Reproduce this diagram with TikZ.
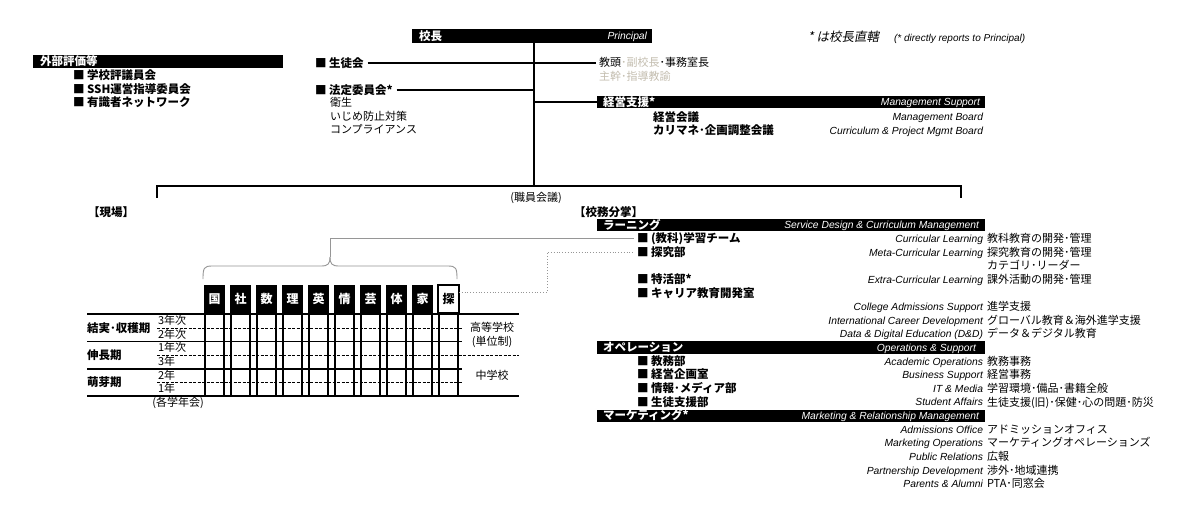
\documentclass[tikz,border=0pt]{standalone}
\usepackage{fontspec}
\setmainfont{Noto Sans CJK JP}
\newfontfamily\enf{Liberation Sans}
\newfontfamily\jpsl{Noto Sans CJK JP}[FakeSlant=0.18]
\definecolor{paleg}{RGB}{196,190,176}
\definecolor{lineg}{RGB}{150,150,150}
\begin{document}
\begin{tikzpicture}[x=1pt,y=-1pt,
  every node/.style={inner sep=0pt, outer sep=0pt},
  jtxt/.style={font=\fontsize{11}{13}\selectfont, text height=8.8pt, text depth=1.1pt},
  jsml/.style={font=\fontsize{11}{12}\selectfont, text height=8.8pt, text depth=1.1pt},
  jbold/.style={font=\fontsize{11.5}{13}\selectfont\bfseries, text height=9.2pt, text depth=1.15pt},
  etxt/.style={font=\enf\itshape\fontsize{10.3}{12}\selectfont, text height=7.4pt, text depth=0pt},
  wbold/.style={jbold, text=white},
  wetxt/.style={etxt, text=white},
  barbox/.style={fill=black, minimum height=12.5pt, anchor=west},
  conn/.style={line width=1.8pt},
  tsolid/.style={line width=1.2pt},
  tdash/.style={line width=1pt, dash pattern=on 3pt off 1.5pt},
  vline/.style={line width=2.2pt},
  subj/.style={fill=black, minimum width=21pt, minimum height=28pt, text=white,
     font=\fontsize{12}{13}\selectfont\bfseries},
  bracegray/.style={draw=lineg, line width=0.9pt},
  gconn/.style={draw=lineg, line width=0.9pt},
  dconn/.style={draw=lineg, line width=0.8pt, dotted}
]
\fill[white] (0,0) rectangle (1200,512);
\useasboundingbox (0,0) rectangle (1200,512);

% ---------- Principal ----------
\node[barbox, minimum width=240pt, minimum height=13.5pt] (principal) at (412,36) {};
\node[wbold, anchor=west] (principalj) at ([xshift=7pt]principal.west) {校長};
\node[wetxt, anchor=east] (principale) at ([xshift=-5pt]principal.east) {Principal};
\node[anchor=west, font=\jpsl\fontsize{12.5}{14}\selectfont, text height=10pt, text depth=1.2pt] (note) at (808,37)
  {*~は校長直轄\hspace{15pt}{\enf\itshape\fontsize{10}{11}\selectfont (* directly reports to Principal)}};

\coordinate (tk) at (534,186);
\draw[conn] (tk |- principal.south) -- (tk);
\draw[conn] (157,197.5) -- (157,186) -- (tk) -- (961,186) -- (961,197.5);

% ---------- outside evaluation ----------
\node[barbox, minimum width=250pt, minimum height=13pt] (gaibu) at (33,61.5) {};
\node[wbold, anchor=west] (gaibuj) at ([xshift=7pt]gaibu.west) {外部評価等};
\node[jbold, anchor=west] (g1) at (73,75.5) {■ 学校評議員会};
\node[jbold, anchor=west] (g2) at (73,89) {■ SSH運営指導委員会};
\node[jbold, anchor=west] (g3) at (73,102.5) {■ 有識者ネットワーク};

% ---------- left of trunk ----------
\node[jbold, anchor=west] (seito) at (315,63) {■ 生徒会};
\node[jbold, anchor=west] (hotei) at (315,90) {■ 法定委員会*};
\node[jtxt, anchor=west] (eisei) at (330,103) {衛生};
\node[jtxt, anchor=west] (ijime) at (330,116.5) {いじめ防止対策};
\node[jtxt, anchor=west] (compl) at (330,130) {コンプライアンス};
\draw[conn] ([xshift=4pt]seito.east) -- (seito.east -| tk);
\draw[conn] ([xshift=4pt]hotei.east) -- (hotei.east -| tk);

% ---------- right of trunk ----------
\node[jtxt, anchor=west] (kyoto) at (599,63) {教頭{\color{paleg}･副校長}･事務室長};
\node[jtxt, anchor=west, text=paleg] (shukan) at (599,76.5) {主幹･指導教諭};
\draw[conn] (tk |- kyoto.west) -- ([xshift=-3pt]kyoto.west);
\node[barbox, minimum width=388pt] (keiei) at (597,102) {};
\node[wbold, anchor=west] (keieij) at ([xshift=6pt]keiei.west) {経営支援*};
\node[wetxt, anchor=east] (keieie) at ([xshift=-5pt]keiei.east) {Management Support};
\draw[conn] (tk |- keiei.west) -- (keiei.west);
\node[jbold, anchor=west] (kk1) at (653,117) {経営会議};
\node[etxt, anchor=east] (kk1e) at (983,117) {Management Board};
\node[jbold, anchor=west] (kk2) at (653,130.5) {カリマネ･企画調整会議};
\node[etxt, anchor=east] (kk2e) at (983,130.5) {Curriculum \& Project Mgmt Board};

% ---------- staff meeting labels ----------
\node[jsml] (shokuin) at (536,197.5) {(職員会議)};
\node[jbold, anchor=west] (genba) at (88,212) {【現場】};
\node[jbold, anchor=west] (koumu) at (574,212) {【校務分掌】};

% ---------- subject grid ----------
\foreach \t [count=\k from 0] in {国,社,数,理,英,情,芸,体,家} {
  \node[subj] (s\k) at ({214.5+26*\k},299) {\t};
}
\node[subj, fill=white, draw=black, line width=1.8pt, text=black] (s9) at (448.5,299) {探};
\foreach \k in {0,...,9} {
  \draw[vline] ([xshift=1.1pt]s\k.south west) -- ++(0,83);
  \draw[vline] ([xshift=-1.1pt]s\k.south east) -- ++(0,83);
}
% table rules
\draw[tsolid] (87,314) -- (519,314);
\draw[tdash] (157,328) -- (462,328);
\draw[tsolid] (87,341.5) -- (462,341.5);
\draw[tdash] (157,355) -- (519,355);
\draw[tsolid] (87,369) -- (462,369);
\draw[tdash] (157,382.5) -- (462,382.5);
\draw[tsolid] (87,396) -- (519,396);

\node[jbold, anchor=west] (r1) at (87,328) {結実･収穫期};
\node[jbold, anchor=west] (r2) at (87,355) {伸長期};
\node[jbold, anchor=west] (r3) at (87,382.5) {萌芽期};
\node[jsml, anchor=west] (y1) at (158,321) {3年次};
\node[jsml, anchor=west] (y2) at (158,334.5) {2年次};
\node[jsml, anchor=west] (y3) at (158,348) {1年次};
\node[jsml, anchor=west] (y4) at (158,362) {3年};
\node[jsml, anchor=west] (y5) at (158,375.5) {2年};
\node[jsml, anchor=west] (y6) at (158,389) {1年};
\node[jtxt] (hs1) at (492,328) {高等学校};
\node[jtxt] (hs2) at (492,342) {(単位制)};
\node[jtxt] (jhs) at (492,375.5) {中学校};
\node[jsml] (gakunen) at (178,402.5) {(各学年会)};

% brace over subjects
\coordinate (bapex) at (330,257);
\draw[bracegray] (203,279) .. controls (203,268) and (204,266) .. (212,266) -- (321,266)
   .. controls (328,266) and (330,264) .. (bapex);
\draw[bracegray] (457,279) .. controls (457,268) and (456,266) .. (448,266) -- (339,266)
   .. controls (332,266) and (330,264) .. (bapex);

% ---------- right column ----------
\node[barbox, minimum width=388pt] (learn) at (597,225) {};
\node[wbold, anchor=west] (learnj) at ([xshift=6pt]learn.west) {ラーニング};
\node[wetxt, anchor=east] (learne) at ([xshift=-6pt]learn.east) {Service Design \& Curriculum Management};

\node[jbold, anchor=west] (team) at (637,238.6) {■ (教科)学習チーム};
\node[etxt, anchor=east] (teame) at (983,238.6) {Curricular Learning};
\node[jtxt, anchor=west] (teamd) at (987,238.6) {教科教育の開発･管理};

\node[jbold, anchor=west] (tanq) at (637,252.3) {■ 探究部};
\node[etxt, anchor=east] (tanqe) at (983,252.3) {Meta-Curricular Learning};
\node[jtxt, anchor=west] (tanqd) at (987,252.3) {探究教育の開発･管理};
\node[jtxt, anchor=west] (cat) at (987,265.9) {カテゴリ･リーダー};

\node[jbold, anchor=west] (tokkatsu) at (637,279.5) {■ 特活部*};
\node[etxt, anchor=east] (tokkatsue) at (983,279.5) {Extra-Curricular Learning};
\node[jtxt, anchor=west] (tokkatsud) at (987,279.5) {課外活動の開発･管理};

\node[jbold, anchor=west] (career) at (637,293.2) {■ キャリア教育開発室};
\node[etxt, anchor=east] (c1e) at (983,306.8) {College Admissions Support};
\node[jtxt, anchor=west] (c1d) at (987,306.8) {進学支援};
\node[etxt, anchor=east] (c2e) at (983,320.4) {International Career Development};
\node[jtxt, anchor=west] (c2d) at (987,320.4) {グローバル教育＆海外進学支援};
\node[etxt, anchor=east] (c3e) at (983,334.0) {Data \& Digital Education (D\&D)};
\node[jtxt, anchor=west] (c3d) at (987,334.0) {データ＆デジタル教育};

\node[barbox, minimum width=388pt] (ops) at (597,347.7) {};
\node[wbold, anchor=west] (opsj) at ([xshift=6pt]ops.west) {オペレーション};
\node[wetxt, anchor=east] (opse) at ([xshift=-9pt]ops.east) {Operations \& Support};

\node[jbold, anchor=west] (o1) at (637,361.3) {■ 教務部};
\node[etxt, anchor=east] (o1e) at (983,361.3) {Academic Operations};
\node[jtxt, anchor=west] (o1d) at (987,361.3) {教務事務};
\node[jbold, anchor=west] (o2) at (637,374.9) {■ 経営企画室};
\node[etxt, anchor=east] (o2e) at (983,374.9) {Business Support};
\node[jtxt, anchor=west] (o2d) at (987,374.9) {経営事務};
\node[jbold, anchor=west] (o3) at (637,388.6) {■ 情報･メディア部};
\node[etxt, anchor=east] (o3e) at (983,388.6) {IT \& Media};
\node[jtxt, anchor=west] (o3d) at (987,388.6) {学習環境･備品･書籍全般};
\node[jbold, anchor=west] (o4) at (637,402.2) {■ 生徒支援部};
\node[etxt, anchor=east] (o4e) at (983,402.2) {Student Affairs};
\node[jtxt, anchor=west] (o4d) at (987,402.2) {生徒支援(旧)･保健･心の問題･防災};

\node[barbox, minimum width=388pt] (mkt) at (597,415.8) {};
\node[wbold, anchor=west] (mktj) at ([xshift=6pt]mkt.west) {マーケティング*};
\node[wetxt, anchor=east] (mkte) at ([xshift=-6pt]mkt.east) {Marketing \& Relationship Management};

\node[etxt, anchor=east] (m1e) at (983,429.5) {Admissions Office};
\node[jtxt, anchor=west] (m1d) at (987,429.5) {アドミッションオフィス};
\node[etxt, anchor=east] (m2e) at (983,443.1) {Marketing Operations};
\node[jtxt, anchor=west] (m2d) at (987,443.1) {マーケティングオペレーションズ};
\node[etxt, anchor=east] (m3e) at (983,456.7) {Public Relations};
\node[jtxt, anchor=west] (m3d) at (987,456.7) {広報};
\node[etxt, anchor=east] (m4e) at (983,470.3) {Partnership Development};
\node[jtxt, anchor=west] (m4d) at (987,470.3) {渉外･地域連携};
\node[etxt, anchor=east] (m5e) at (983,484.0) {Parents \& Alumni};
\node[jtxt, anchor=west] (m5d) at (987,484.0) {PTA･同窓会};

% ---------- grey connectors ----------
\draw[gconn] (bapex) |- ([xshift=-3pt]team.west);
\draw[dconn] ([yshift=7pt]s9.east) -- ++(88,0) |- ([xshift=-3pt]tanq.west);
\end{tikzpicture}
\end{document}
